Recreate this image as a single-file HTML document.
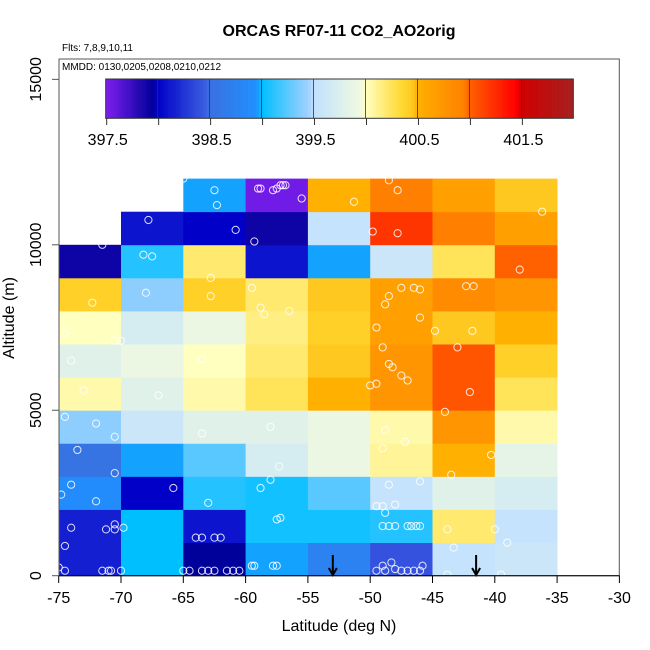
<!DOCTYPE html>
<html><head><meta charset="utf-8"><style>
body{margin:0;background:#fff;}
svg{display:block;font-family:"Liberation Sans",sans-serif;}
</style></head><body>
<svg id="chart" width="650" height="650" viewBox="0 0 650 650">
<text x="339" y="36" text-anchor="middle" font-size="16" font-weight="bold">ORCAS RF07-11 CO2_AO2orig</text>
<text x="62" y="51" font-size="10">Flts: 7,8,9,10,11</text>
<g id="cells"></g>
<g id="pts"></g>
<g id="arrows"></g>
<rect x="59" y="59" width="560.3" height="516.7" fill="none" stroke="#555" stroke-width="1"/>
<text x="62" y="70" font-size="10">MMDD: 0130,0205,0208,0210,0212</text>
<g id="axes"></g>
<g id="cbar"></g>
<text x="339" y="631" text-anchor="middle" font-size="16">Latitude (deg N)</text>
<text transform="translate(14,318) rotate(-90)" text-anchor="middle" font-size="16">Altitude (m)</text>
</svg>
<script>
const latEdges=[-75,-70,-65,-60,-55,-50,-45,-40,-35];
const altEdges=[0,1000,2000,3000,4000,5000,6000,7000,8000,9000,10000,11000,12000];
// rows from 0-1km (index 0) upward; null = no data
const co2=[
[398.15,399.0,397.95,398.97,398.75,398.4,399.55,399.6],
[398.15,399.0,398.1,399.05,399.05,399.1,400.2,399.55],
[398.9,398.0,399.1,399.05,399.25,399.55,399.8,399.7],
[398.55,398.97,399.25,399.7,399.9,400.1,400.5,399.85],
[399.4,399.6,399.8,399.8,399.9,400.05,400.75,400.05],
[400.05,399.8,400.05,400.25,400.5,400.75,401.05,400.25],
[399.8,399.9,400.0,400.2,400.45,400.75,401.05,400.4],
[400.0,399.7,399.9,400.15,400.4,400.65,400.45,400.5],
[400.4,399.4,400.4,400.2,400.45,400.65,400.85,400.75],
[397.9,399.1,400.2,398.1,398.97,399.6,400.25,401.0],
[null,398.1,398.0,397.9,399.55,401.2,400.95,400.65],
[null,null,398.97,397.55,400.5,400.95,400.65,400.45]];
const xTicks=[-75,-70,-65,-60,-55,-50,-45,-40,-35,-30];
const yTicks=[0,5000,10000,15000];
const cbTicks=[397.5,398,398.5,399,399.5,400,400.5,401,401.5,402];
const cbLabels=[397.5,398.5,399.5,400.5,401.5];
const ptLat=[-65,-62.5,-62.3,-59,-58.8,-57.5,-57.2,-57,-56.8,-57.8,-55.5,-51.3,-48.5,-47.8,-36.2,-67.8,-60.8,-49.8,-47.8,-71.5,-59.3,-68.2,-67.5,-38,-62.8,-62.8,-68,-72.3,-59.5,-58.8,-58.5,-56.5,-47.5,-48.5,-46.5,-46,-42.3,-41.7,-48.8,-49.5,-46,-44.8,-41.8,-49,-43,-74.5,-70.5,-70,-74,-63.5,-48.5,-48.2,-47.5,-47,-49.5,-50,-42,-73,-67,-44,-74.5,-72,-70.5,-63.5,-58,-48.8,-49,-47.2,-40.3,-73.5,-70.5,-57.3,-58,-48.5,-46,-43.5,-74,-74.8,-72,-65.8,-63,-58.8,-49.5,-49,-48,-48.8,-43.8,-40,-74,-70.5,-71.2,-70.5,-69.8,-57.5,-57.2,-49,-48.5,-48,-47,-46.7,-46.3,-46,-43.3,-64,-63.5,-62.5,-62,-74.5,-39,-70.8,-71,-71.5,-70,-75,-74.5,-65,-64.5,-63.5,-63,-62.5,-61.5,-61,-60.5,-59.5,-59.3,-57.8,-57.5,-49,-48.3,-48,-47.5,-47,-46.5,-46,-45.8,-49.5,-48.8,-43.8,-39.5];
const ptAlt=[12000,11650,11200,11700,11700,11700,11800,11800,11800,11650,11400,11300,11950,11650,11000,10750,10450,10400,10350,10000,10100,9700,9650,9250,9000,8450,8550,8250,8700,8100,7900,8000,8700,8450,8700,8650,8750,8750,8200,7500,7800,7400,7400,6900,6900,7300,7100,7100,6500,6550,6400,6300,6050,5900,5800,5750,5550,5600,5450,4950,4800,4600,4200,4300,4500,4400,3850,4050,3650,3800,3100,3300,2900,2750,2850,3050,2750,2450,2250,2650,2200,2650,2100,2100,2150,1900,1400,1400,1450,1550,1400,1400,1450,1700,1750,1500,1500,1500,1500,1500,1500,1500,850,1150,1150,1150,1150,900,1000,150,150,150,150,250,150,150,150,150,150,150,150,150,150,300,300,300,300,300,400,200,150,150,150,150,300,150,150,30,30];
const arrowLat=[-53,-41.5];

const X=v=>58.7+(v+75)*12.46;
const Y=a=>575.7-a*0.03309;
const stops=[[397.5,'#7f1ff0'],[397.95,'#00009a'],[398.0,'#0000c8'],[398.45,'#3a5ce0'],[398.5,'#3a70e0'],[398.95,'#2090ff'],[399.0,'#00bfff'],[399.45,'#a0d0ff'],[399.5,'#c0e0ff'],[399.95,'#f0fae0'],[400.0,'#ffffc0'],[400.35,'#ffd830'],[400.45,'#ffc820'],[400.5,'#ffb000'],[400.95,'#ff8000'],[401.0,'#ff6000'],[401.45,'#ff0000'],[401.5,'#d00000'],[402.0,'#a52020']];
function hex(h){return [1,3,5].map(i=>parseInt(h.substr(i,2),16));}
function cmap(v){
  if(v<=stops[0][0])return stops[0][1];
  for(let i=1;i<stops.length;i++){if(v<=stops[i][0]){const a=hex(stops[i-1][1]),b=hex(stops[i][1]);const t=(v-stops[i-1][0])/(stops[i][0]-stops[i-1][0]);return 'rgb('+a.map((c,k)=>Math.round(c+(b[k]-c)*t)).join(',')+')';}}
  return stops[stops.length-1][1];
}
const NS='http://www.w3.org/2000/svg';
function mk(tag,attrs,parent){const e=document.createElementNS(NS,tag);for(const k in attrs)e.setAttribute(k,attrs[k]);parent.appendChild(e);return e;}
const gC=document.getElementById('cells');
co2.forEach((row,r)=>row.forEach((v,c)=>{
  if(v===null)return;
  const x0=X(latEdges[c]),x1=X(latEdges[c+1]),y1=Y(altEdges[r]),y0=Y(altEdges[r+1]);
  const e=mk('rect',{x:x0,y:y0,width:x1-x0+0.4,height:y1-y0+0.4,fill:cmap(v)},gC);
  
  
}));
const gP=document.getElementById('pts');
ptLat.forEach((la,i)=>{
  const e=mk('circle',{cx:X(la),cy:Y(ptAlt[i]),r:3.6,fill:'none',stroke:'#fff','stroke-width':1,opacity:0.85},gP);
  
  
});
const gA=document.getElementById('arrows');
arrowLat.forEach(la=>{
  const x=X(la);
  const e=mk('path',{d:`M${x},555 L${x},575 M${x-4},568 L${x},575 L${x+4},568`,stroke:'#000','stroke-width':2,fill:'none'},gA);
  
  
});
const gX=document.getElementById('axes');
mk('line',{x1:X(-75),x2:X(-30),y1:575.7,y2:575.7,stroke:'#000'},gX);
xTicks.forEach(t=>{
  mk('line',{x1:X(t),x2:X(t),y1:575.7,y2:583,stroke:'#000'},gX);
  const e=mk('text',{x:X(t),y:603,'text-anchor':'middle','font-size':16},gX);e.textContent=t;
  
  
});
yTicks.forEach(t=>{
  mk('line',{x1:52,x2:59,y1:Y(t),y2:Y(t),stroke:'#555'},gX);
  const e=mk('text',{transform:`translate(41,${Y(t)}) rotate(-90)`,'text-anchor':'middle','font-size':16},gX);e.textContent=t;
  
  
});
const gB=document.getElementById('cbar');
const cbX=v=>105.7+(v-397.5)*103.92;
const cbRight=cbX(402);
for(let i=0;i<180;i++){
  const v=397.5+i*0.025;
  const x0=cbX(v);
  const w=Math.min(2.9,cbRight-x0);
  if(w<=0)break;
  const e=mk('rect',{x:x0,y:79,width:w,height:39.3,fill:cmap(v+0.0125)},gB);
  
  
}
mk('rect',{x:105.7,y:79,width:cbRight-105.7,height:39.3,fill:'none',stroke:'#333'},gB);
cbTicks.forEach(t=>{
  if(t>397.5&&t<402)mk('line',{x1:cbX(t),x2:cbX(t),y1:79,y2:118.3,stroke:'#333','stroke-width':0.8},gB);
  if(t<402)mk('line',{x1:cbX(t)+1,x2:cbX(t)+1,y1:118.3,y2:125,stroke:'#333'},gB);
});
cbLabels.forEach(t=>{
  const e=mk('text',{x:cbX(t)+2,y:145,'text-anchor':'middle','font-size':16},gB);e.textContent=t.toFixed(1);
  
  
});
</script>
</body></html>
